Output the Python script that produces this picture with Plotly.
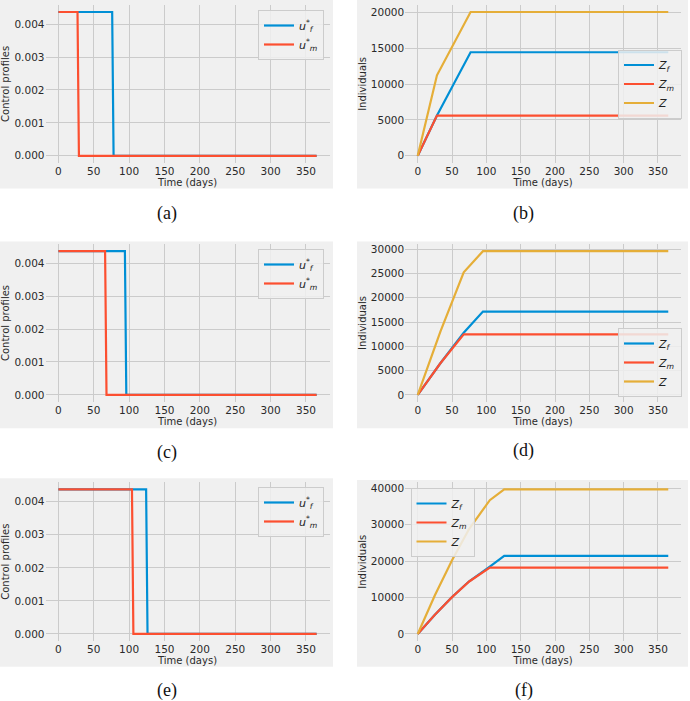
import plotly.graph_objects as go

# ---------------- data ----------------
# (a)
t_uf_a = [0, 76, 78, 365]
uf_a = [0.00437, 0.00437, 0.0, 0.0]
t_um_a = [0, 27, 29, 365]
um_a = [0.00437, 0.00437, 0.0, 0.0]
# (c)
t_uf_c = [0, 94, 96, 365]
uf_c = [0.00437, 0.00437, 0.0, 0.0]
t_um_c = [0, 66, 68, 365]
um_c = [0.00437, 0.00437, 0.0, 0.0]
# (e)
t_uf_e = [0, 124, 126, 365]
uf_e = [0.00437, 0.00437, 0.0, 0.0]
t_um_e = [0, 104, 106, 365]
um_e = [0.00437, 0.00437, 0.0, 0.0]

# (b)
t_b = [0, 28, 77, 365]
zf_b = [0, 5620, 14450, 14450]
zm_b = [0, 5620, 5620, 5620]
z_b = [0, 11240, 20070, 20070]
# (d)
t_d = [0, 33, 67, 95, 365]
zf_d = [0, 6500, 12800, 17150, 17150]
zm_d = [0, 6500, 12440, 12440, 12440]
z_d = [0, 13000, 25240, 29590, 29590]
# (f)
t_f = [0, 25, 50, 75, 105, 126, 365]
zf_f = [0, 5300, 10150, 14450, 18500, 21450, 21450]
zm_f = [0, 5300, 10100, 14400, 18200, 18200, 18200]
z_f = [0, 10600, 20250, 28850, 36700, 39650, 39650]

x_ticks = [0, 50, 100, 150, 200, 250, 300, 350]
u_ticks = [0.0, 0.001, 0.002, 0.003, 0.004]
captions = ["(a)", "(b)", "(c)", "(d)", "(e)", "(f)"]

BLUE, RED, YEL = "#008fd5", "#fc4f30", "#e5ae38"
BG = "#f0f0f0"
GRID = "#cbcbcb"
W, H = 690, 701

def px(x):
    return x / W

def py(y):
    return 1 - y / H

fig = go.Figure()

lab_uf = "<i>u</i><sup>*</sup><sub><i>f</i></sub>"
lab_um = "<i>u</i><sup>*</sup><sub><i>m</i></sub>"
lab_zf = "<i>Z</i><sub><i>f</i></sub>"
lab_zm = "<i>Z</i><sub><i>m</i></sub>"
lab_z = "<i>Z</i>"

ctrl = [
    (1, t_uf_a, uf_a, t_um_a, um_a),
    (3, t_uf_c, uf_c, t_um_c, um_c),
    (5, t_uf_e, uf_e, t_um_e, um_e),
]
pops = [
    (2, t_b, zf_b, zm_b, z_b),
    (4, t_d, zf_d, zm_d, z_d),
    (6, t_f, zf_f, zm_f, z_f),
]

def suffix(i):
    return "" if i == 1 else str(i)

for (i, tf, uf, tm, um) in ctrl:
    s = suffix(i)
    lg = "legend" + s
    fig.add_trace(go.Scatter(x=tf, y=uf, mode="lines", name=lab_uf,
                             line=dict(color=BLUE, width=2.2),
                             xaxis="x" + s, yaxis="y" + s, legend=lg))
    fig.add_trace(go.Scatter(x=tm, y=um, mode="lines", name=lab_um,
                             line=dict(color=RED, width=2.2),
                             xaxis="x" + s, yaxis="y" + s, legend=lg))

for (i, t, zf, zm, z) in pops:
    s = suffix(i)
    lg = "legend" + s
    fig.add_trace(go.Scatter(x=t, y=zf, mode="lines", name=lab_zf,
                             line=dict(color=BLUE, width=2.2),
                             xaxis="x" + s, yaxis="y" + s, legend=lg))
    fig.add_trace(go.Scatter(x=t, y=zm, mode="lines", name=lab_zm,
                             line=dict(color=RED, width=2.2),
                             xaxis="x" + s, yaxis="y" + s, legend=lg))
    fig.add_trace(go.Scatter(x=t, y=z, mode="lines", name=lab_z,
                             line=dict(color=YEL, width=2.2),
                             xaxis="x" + s, yaxis="y" + s, legend=lg))

# layout geometry (pixels)
col_x = {0: (45.5, 329.5), 1: (405.2, 680.8)}
row_y = {0: (4.8, 163.0), 1: (244.0, 402.0), 2: (482.2, 641.2)}
grey = {
    (0, 0): (0, 0, 333, 188.5), (0, 1): (357, 0, 688, 188.5),
    (1, 0): (0, 241.5, 333, 428.3), (1, 1): (357, 241.5, 688, 428.3),
    (2, 0): (0, 478.3, 333, 666.7), (2, 1): (357, 480, 688, 666.7),
}
cap_pos = {1: (167, 213), 2: (523, 213), 3: (167, 452), 4: (523, 450),
           5: (167, 690), 6: (524, 690)}
# legend: (x_px, xanchor, y_px, yanchor)
leg_pos = {1: (324, "right", 10, "top"), 3: (324, "right", 249, "top"),
           5: (324, "right", 487, "top"),
           2: (682, "right", 84, "middle"), 4: (682, "right", 397, "bottom"),
           6: (410.5, "left", 488, "top")}

def pad_range(vals_list):
    lo = min(min(v) for v in vals_list)
    hi = max(max(v) for v in vals_list)
    p = (hi - lo) * 0.05
    return [lo - p, hi + p]

tick_font = dict(family="DejaVu Sans", size=10.5, color="#2a2a2a")
title_font = dict(family="DejaVu Sans", size=10, color="#2a2a2a")

layout = dict(
    width=W, height=H, margin=dict(l=0, r=0, t=0, b=0, autoexpand=False),
    paper_bgcolor="white", plot_bgcolor=BG, showlegend=True,
)
shapes = []
annotations = []

x_range = pad_range([t_uf_a, t_um_a])

for i in range(1, 7):
    s = suffix(i)
    r = (i - 1) // 2
    c = (i - 1) % 2
    x0, x1 = col_x[c]
    y0, y1 = row_y[r]
    if c == 0:
        data = {1: [uf_a, um_a], 3: [uf_c, um_c], 5: [uf_e, um_e]}[i]
        yr = pad_range(data)
        yax = dict(tickvals=u_ticks, tickformat=".3f",
                   title=dict(text="Control profiles", font=title_font, standoff=4))
    else:
        data = {2: [zf_b, zm_b, z_b], 4: [zf_d, zm_d, z_d], 6: [zf_f, zm_f, z_f]}[i]
        yr = pad_range(data)
        yax = dict(dtick=10000 if i == 6 else 5000, tickformat="d",
                   title=dict(text="Individuals", font=title_font, standoff=2))
    layout["xaxis" + s] = dict(
        domain=[px(x0), px(x1)], anchor="y" + s, range=x_range,
        tickvals=x_ticks, showgrid=True, gridcolor=GRID, gridwidth=1,
        zeroline=False, showline=False, ticks="", tickfont=tick_font,
        automargin=False,
        title=dict(text="Time (days)", font=title_font, standoff=0),
    )
    yax.update(dict(
        domain=[py(y1), py(y0)], anchor="x" + s, range=yr,
        showgrid=True, gridcolor=GRID, gridwidth=1, zeroline=False,
        showline=False, ticks="", tickfont=tick_font, automargin=False,
    ))
    layout["yaxis" + s] = yax
    gx0, gy0, gx1, gy1 = grey[(r, c)]
    shapes.append(dict(type="rect", xref="paper", yref="paper",
                       x0=px(gx0), x1=px(gx1), y0=py(gy1), y1=py(gy0),
                       fillcolor=BG, line=dict(width=0), layer="below"))
    cx, cy = cap_pos[i]
    annotations.append(dict(text=captions[i - 1], xref="paper", yref="paper",
                            x=px(cx), y=py(cy), xanchor="center", yanchor="middle",
                            showarrow=False,
                            font=dict(family="Liberation Serif", size=18, color="#111")))
    lx, la, ly, lya = leg_pos[i]
    layout["legend" + s] = dict(
        x=px(lx), xanchor=la, y=py(ly), yanchor=lya,
        xref="paper", yref="paper",
        bgcolor="rgba(240,240,240,0.85)", bordercolor="#cccccc", borderwidth=1,
        font=dict(family="DejaVu Sans", size=11, color="#222"),
        itemwidth=30, tracegroupgap=0,
    )

layout["shapes"] = shapes
layout["annotations"] = annotations
fig.update_layout(**layout)

fig.write_html("out.html",
               config={"displayModeBar": False},
               post_script="document.body.style.margin='0';document.body.style.padding='0';")
